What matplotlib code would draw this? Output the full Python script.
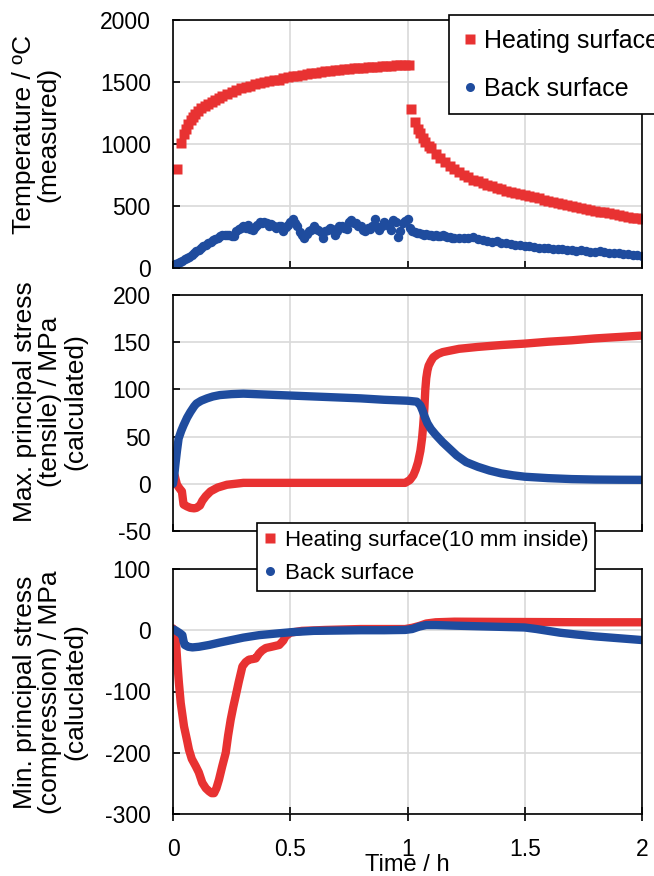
import matplotlib.pyplot as plt
from matplotlib.lines import Line2D

plt.rcParams['font.family'] = ['Liberation Sans', 'DejaVu Sans']
plt.rcParams['axes.unicode_minus'] = False

RED = '#e83232'
BLUE = '#1f4c9e'

# --- panel 1: measured temperature ---
t_heat = [0.017, 0.034, 0.045, 0.055, 0.065, 0.075, 0.085, 0.095, 0.105, 0.12,
          0.135, 0.15, 0.165, 0.18, 0.195, 0.21, 0.23, 0.25, 0.27, 0.29,
          0.31, 0.33, 0.35, 0.37, 0.39, 0.41, 0.43, 0.45, 0.47, 0.49,
          0.51, 0.53, 0.55, 0.57, 0.59, 0.61, 0.63, 0.65, 0.67, 0.69,
          0.71, 0.73, 0.75, 0.77, 0.79, 0.81, 0.83, 0.85, 0.87, 0.89,
          0.91, 0.93, 0.95, 0.97, 0.99, 1.005,
          1.016, 1.033, 1.045, 1.055, 1.065, 1.075, 1.09, 1.10, 1.12, 1.14,
          1.16, 1.18, 1.20, 1.22, 1.24, 1.26, 1.28, 1.30, 1.32, 1.34,
          1.36, 1.38, 1.40, 1.42, 1.44, 1.46, 1.48, 1.50, 1.52, 1.54,
          1.56, 1.58, 1.60, 1.62, 1.64, 1.66, 1.68, 1.70, 1.72, 1.74,
          1.76, 1.78, 1.80, 1.82, 1.84, 1.86, 1.88, 1.90, 1.92, 1.94,
          1.96, 1.98, 2.00]
T_heat = [795, 1010, 1080, 1120, 1160, 1190, 1215, 1240, 1265, 1290,
          1305, 1325, 1340, 1355, 1370, 1385, 1400, 1420, 1435, 1450,
          1460, 1465, 1480, 1490, 1500, 1510, 1515, 1520, 1530, 1540,
          1545, 1550, 1555, 1565, 1570, 1575, 1580, 1585, 1590, 1595,
          1600, 1603, 1606, 1610, 1613, 1616, 1619, 1622, 1625, 1628,
          1630, 1632, 1634, 1636, 1637, 1636,
          1280, 1175, 1120, 1085, 1050, 1020, 985, 965, 920, 885,
          852, 822, 796, 772, 750, 730, 713, 698, 684, 671,
          658, 646, 635, 625, 615, 606, 597, 588, 579, 570,
          561, 552, 543, 534, 526, 518, 510, 502, 494, 486,
          478, 470, 462, 455, 448, 441, 434, 427, 420, 413,
          406, 400, 394]

t_back = [0.00, 0.01, 0.02, 0.03, 0.04, 0.05, 0.06, 0.07, 0.08, 0.09,
          0.10, 0.11, 0.12, 0.13, 0.14, 0.15, 0.16, 0.17, 0.18, 0.19,
          0.20, 0.21, 0.22, 0.23, 0.24, 0.25, 0.26, 0.27, 0.28, 0.29,
          0.30, 0.31, 0.32, 0.33, 0.34, 0.35, 0.36, 0.37, 0.38, 0.39,
          0.40, 0.41, 0.42, 0.43, 0.44, 0.45, 0.46, 0.47, 0.48, 0.49,
          0.50, 0.51, 0.52, 0.53, 0.54, 0.55, 0.56, 0.57, 0.58, 0.59,
          0.60, 0.61, 0.62, 0.63, 0.64, 0.65, 0.66, 0.67, 0.68, 0.69,
          0.70, 0.71, 0.72, 0.73, 0.74, 0.75, 0.76, 0.77, 0.78, 0.79,
          0.80, 0.81, 0.82, 0.83, 0.84, 0.85, 0.86, 0.87, 0.88, 0.89,
          0.90, 0.91, 0.92, 0.93, 0.94, 0.95, 0.96, 0.97, 0.98, 0.99,
          1.00, 1.01, 1.02, 1.03, 1.04, 1.05, 1.06, 1.07, 1.08, 1.09,
          1.10, 1.11, 1.12, 1.13, 1.14, 1.15, 1.16, 1.17, 1.18, 1.19,
          1.20, 1.22, 1.24, 1.26, 1.28, 1.30, 1.32, 1.34, 1.36, 1.38,
          1.40, 1.42, 1.44, 1.46, 1.48, 1.50, 1.52, 1.54, 1.56, 1.58,
          1.60, 1.62, 1.64, 1.66, 1.68, 1.70, 1.72, 1.74, 1.76, 1.78,
          1.80, 1.82, 1.84, 1.86, 1.88, 1.90, 1.92, 1.94, 1.96, 1.98, 2.00]
T_back = [27, 35, 42, 50, 60, 72, 82, 92, 105, 118,
          134, 148, 162, 176, 188, 198, 210, 222, 235, 245,
          255, 264, 268, 270, 268, 262, 256, 300, 313, 320,
          335, 326, 350, 318, 308, 330, 345, 372, 362, 375,
          360, 340, 355, 335, 320, 340, 338, 295, 330, 350,
          375, 395, 360, 340, 290, 268, 245, 275, 300, 310,
          335, 318, 305, 290, 245, 300, 310, 320, 315, 265,
          300, 340, 335, 322, 318, 375, 385, 360, 362, 340,
          335, 310, 300, 320, 318, 340, 395, 330, 308, 335,
          370, 355, 340, 310, 390, 370, 250, 300, 365, 380,
          395, 320, 300, 290, 285, 282, 275, 270, 272, 268,
          270, 262, 268, 262, 258, 268, 255, 250, 248, 245,
          240, 238, 240, 245, 250, 230, 228, 220, 212, 215,
          205, 200, 190, 188, 182, 175, 178, 170, 165, 160,
          162, 155, 150, 152, 145, 142, 140, 145, 135, 130,
          128, 140, 132, 125, 122, 118, 115, 112, 108, 105, 100]

# --- panel 2: max. principal stress (tensile) ---
t_max_heat = [0, 0.008, 0.017, 0.028, 0.038, 0.045, 0.06, 0.074, 0.09, 0.10,
              0.115, 0.125, 0.14, 0.16, 0.19, 0.23, 0.3, 0.5, 0.7, 0.9,
              0.99, 1.01, 1.025, 1.035, 1.045, 1.055, 1.062, 1.067, 1.072, 1.076,
              1.08, 1.085, 1.09, 1.1, 1.11, 1.13, 1.15, 1.18, 1.22, 1.3,
              1.4, 1.5, 1.6, 1.7, 1.8, 1.9, 2.0]
s_max_heat = [13, 8, -1, -5, -8, -22, -24, -25.5, -26, -25.5,
              -23, -18, -13, -8, -4, -1, 1, 1, 1, 1,
              1, 4, 9, 15, 23, 35, 48, 62, 80, 100,
              112, 120, 125, 130, 134, 137.5, 139.5, 141, 143, 145,
              147, 148.5, 150.5, 152, 154, 155.5, 157]

t_max_back = [0, 0.005, 0.01, 0.017, 0.024, 0.035, 0.045, 0.06, 0.074, 0.09,
              0.1, 0.12, 0.145, 0.17, 0.2, 0.25, 0.3, 0.4, 0.5, 0.6,
              0.7, 0.8, 0.9, 0.95, 1.0, 1.04, 1.055, 1.065, 1.075, 1.085,
              1.1, 1.12, 1.15, 1.18, 1.21, 1.25, 1.3, 1.35, 1.4, 1.45,
              1.5, 1.6, 1.7, 1.8, 1.9, 2.0]
s_max_back = [0, 8, 20, 35, 48, 56, 62, 70, 76, 82,
              85, 88, 90.5, 92.5, 94, 95, 95.5, 94.5, 93.5, 92.5,
              91.5, 90.5, 89, 88.5, 88, 87, 83, 77, 70, 64,
              58, 52, 44, 37, 30, 23, 18, 14, 11, 9,
              7.5, 6, 5, 4.5, 4.3, 4.2]

# --- panel 3: min. principal stress (compression) ---
t_min_heat = [0, 0.008, 0.012, 0.018, 0.025, 0.033, 0.047, 0.06, 0.068, 0.08,
              0.097, 0.11, 0.125, 0.14, 0.154, 0.165, 0.175, 0.185, 0.196, 0.21,
              0.225, 0.235, 0.246, 0.257, 0.267, 0.28, 0.296, 0.31, 0.324, 0.34,
              0.353, 0.367, 0.38, 0.396, 0.42, 0.453, 0.47, 0.48, 0.5, 0.55,
              0.65, 0.8, 0.99, 1.02, 1.05, 1.08, 1.12, 1.2, 1.4, 1.6,
              1.8, 2.0]
s_min_heat = [3, -5, -16, -50, -85, -119, -157, -180, -195, -210,
              -222, -232, -249, -258, -263, -266, -266, -258, -244, -222,
              -200, -172, -146, -125, -108, -85, -59, -52, -48, -47,
              -46, -38, -33, -29, -27, -24, -17, -10, -4, -1,
              0.5, 2, 2, 4, 7, 11, 13, 14, 13.6, 13.3,
              13, 13]

t_min_back = [0, 0.01, 0.018, 0.03, 0.04, 0.045, 0.05, 0.065, 0.083, 0.11,
              0.154, 0.2, 0.25, 0.3, 0.367, 0.45, 0.51, 0.6, 0.7, 0.8,
              0.9, 0.99, 1.02, 1.05, 1.08, 1.12, 1.2, 1.3, 1.4, 1.5,
              1.55, 1.6, 1.65, 1.72, 1.8, 1.9, 2.0]
s_min_back = [1.6, 0, -2, -5, -8, -18, -24, -27, -28, -27,
              -24, -20, -16, -12, -8, -5, -3, -1, -0.5, 0,
              0, 0.5, 2, 6, 8.5, 8.5, 7.5, 6.5, 5.5, 4.5,
              2, -1, -4, -7, -10, -13, -16]

W, H = 654, 876
fig = plt.figure(figsize=(W / 100, H / 100), dpi=100)


def make_axes(top, bottom):
    left, right = 173, 642
    return fig.add_axes([left / W, 1 - bottom / H, (right - left) / W, (bottom - top) / H])


ax1 = make_axes(20, 268)
ax2 = make_axes(295, 531)
ax3 = make_axes(569, 814)

ax1.plot(t_heat, T_heat, 's', ms=6.5, color=RED, mec='none')
ax1.plot(t_back, T_back, 'o', ms=6.8, color=BLUE, mec='none')
ax1.set_ylim(0, 2000)
ax1.set_yticks([0, 500, 1000, 1500, 2000])

ax2.plot(t_max_heat, s_max_heat, '-', lw=6, color=RED, solid_capstyle='round')
ax2.plot(t_max_back, s_max_back, '-', lw=6, color=BLUE, solid_capstyle='round')
ax2.set_ylim(-50, 200)
ax2.set_yticks([-50, 0, 50, 100, 150, 200])

ax3.plot(t_min_heat, s_min_heat, '-', lw=6, color=RED, solid_capstyle='round')
ax3.plot(t_min_back, s_min_back, '-', lw=6, color=BLUE, solid_capstyle='round')
ax3.set_ylim(-300, 100)
ax3.set_yticks([-300, -200, -100, 0, 100])

for ax in (ax1, ax2, ax3):
    ax.set_xlim(0, 2)
    ax.set_xticks([0, 0.5, 1, 1.5, 2])
    ax.grid(True, color='#d9d9d9', lw=1.2)
    ax.set_axisbelow(True)
    for sp in ax.spines.values():
        sp.set_linewidth(1.2)
        sp.set_color('black')
    ax.tick_params(axis='y', direction='in', length=5, width=1.2, labelsize=16.5, pad=16)
    ax.tick_params(axis='x', direction='in', length=5, width=1.2)

for ax in (ax1, ax2):
    ax.tick_params(axis='x', labelbottom=False)

ax3.tick_params(axis='x', direction='inout', length=10, labelsize=16.5, pad=12)
ax3.set_xticklabels(['0', '0.5', '1', '1.5', '2'])
ax3.set_xlabel('Time / h', fontsize=17, labelpad=-5)

# y labels
lab = dict(rotation=90, ha='center', va='center', fontsize=19, linespacing=1.05)
fig.text(36 / W, 1 - 134 / H, 'Temperature / ºC\n(measured)', **lab)
fig.text(50 / W, 1 - 402 / H, 'Max. principal stress\n(tensile) / MPa\n(calculated)', **lab)
fig.text(50 / W, 1 - 692 / H, 'Min. principal stress\n(compression) / MPa\n(caluclated)', **lab)

# legends
h_sq = Line2D([], [], ls='none', marker='s', ms=6.5, color=RED, mec='none')
h_ci = Line2D([], [], ls='none', marker='o', ms=6.5, color=BLUE, mec='none')

leg1 = fig.legend([h_sq, h_ci], ['Heating surface', 'Back surface'],
                  loc='upper left', bbox_to_anchor=(449 / W, 1 - 15 / H),
                  fontsize=18, frameon=True, fancybox=False, framealpha=1,
                  edgecolor='black', handlelength=0.6, handletextpad=0.25,
                  labelspacing=0.95, borderpad=0.55, borderaxespad=0)
leg1.get_frame().set_linewidth(1.2)

leg2 = fig.legend([h_sq, h_ci], ['Heating surface(10 mm inside)', 'Back surface'],
                  loc='upper left', bbox_to_anchor=(257 / W, 1 - 523 / H),
                  fontsize=16, frameon=True, fancybox=False, framealpha=1,
                  edgecolor='black', handlelength=0.6, handletextpad=0.35,
                  labelspacing=0.55, borderpad=0.3, borderaxespad=0)
leg2.get_frame().set_linewidth(1.2)

fig.savefig('out.png', dpi=100)
